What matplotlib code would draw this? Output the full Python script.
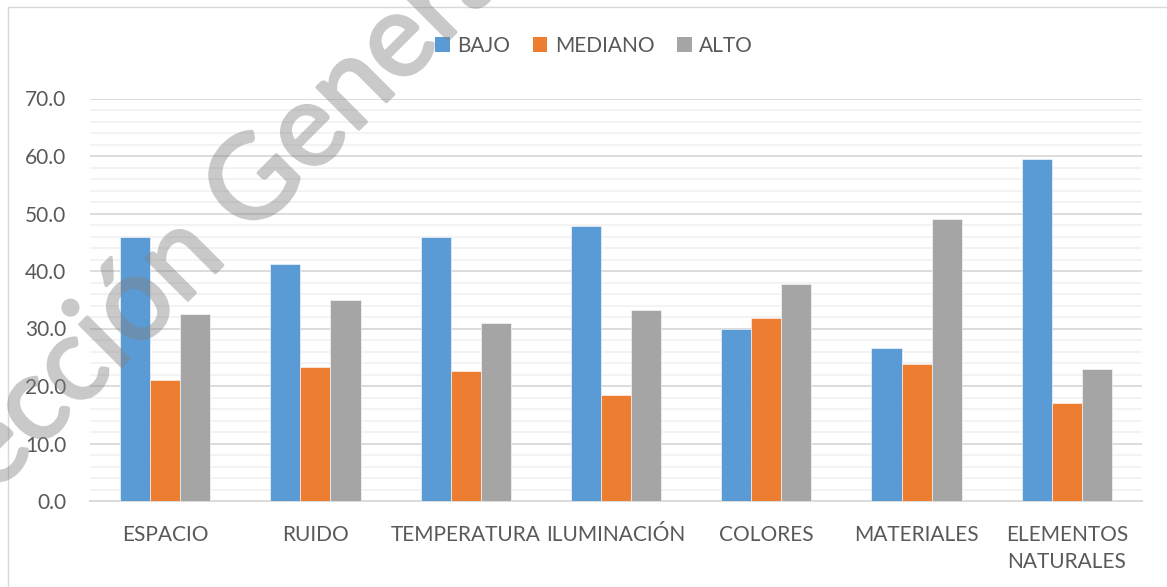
import matplotlib
matplotlib.use("Agg")
import matplotlib.pyplot as plt
import matplotlib.patheffects as pe
import numpy as np
from matplotlib.patches import Rectangle, Patch
from matplotlib.ticker import MultipleLocator, FormatStrFormatter

categories = ["ESPACIO", "RUIDO", "TEMPERATURA", "ILUMINACIÓN", "COLORES",
              "MATERIALES", "ELEMENTOS\nNATURALES"]
series_names = ["BAJO", "MEDIANO", "ALTO"]
bajo = [46.0, 41.3, 46.0, 47.8, 29.9, 26.6, 59.4]
mediano = [21.0, 23.3, 22.6, 18.5, 31.9, 23.9, 17.1]
alto = [32.5, 35.0, 30.9, 33.3, 37.7, 49.0, 23.0]
colors = ["#5B9BD5", "#ED7D31", "#A5A5A5"]

plt.rcParams['font.family'] = ['Lato', 'DejaVu Sans']
text_color = "#595959"

W, H = 1167, 587
fig = plt.figure(figsize=(W / 100, H / 100), dpi=100)
ax = fig.add_axes([90 / W, 1 - 501 / H, (1142 - 90) / W, (501 - 98.5) / H])

x = np.arange(len(categories))
bw = 0.2
for i, (vals, c) in enumerate(zip([bajo, mediano, alto], colors)):
    ax.bar(x + (i - 1) * bw, vals, width=bw, color=c, zorder=3,
           edgecolor="white", linewidth=0.4)

ax.set_xlim(-0.5, len(categories) - 0.5)
ax.set_ylim(0, 70)
ax.yaxis.set_major_locator(MultipleLocator(10))
ax.yaxis.set_minor_locator(MultipleLocator(2))
ax.yaxis.set_major_formatter(FormatStrFormatter("%.1f"))
ax.grid(which="major", axis="y", color="#D9D9D9", linewidth=1.3, zorder=0)
ax.grid(which="minor", axis="y", color="#F2F2F2", linewidth=1.3, zorder=0)
for s in ["top", "right", "left"]:
    ax.spines[s].set_visible(False)
ax.spines["bottom"].set_color("#D9D9D9")
ax.spines["bottom"].set_linewidth(1.3)
ax.set_xticks(x)
ax.set_xticklabels(categories, linespacing=1.45)
ax.tick_params(axis="x", length=0, pad=17, labelsize=15, colors=text_color)
ax.tick_params(axis="y", which="both", length=0, pad=17, labelsize=15, colors=text_color)

# chart area border
fig.patches.append(Rectangle((8 / W, -0.1), 1.2, 1 - 7 / H + 0.1,
                             transform=fig.transFigure, fill=False,
                             edgecolor="#D9D9D9", linewidth=1.0))

handles = [Patch(facecolor=c, edgecolor="none") for c in colors]
fig.legend(handles, series_names, loc="center", bbox_to_anchor=(594 / W, 1 - 46 / H),
           ncol=3, frameon=False, fontsize=15, labelcolor=text_color,
           handlelength=0.7, handleheight=0.7, handletextpad=0.35,
           columnspacing=1.1, borderaxespad=0)


# watermark: drawn opaque, then made uniformly translucent
def fade(img, dpi):
    img = img.copy()
    img[..., 3] *= 0.42
    return img, 0, 0


wm = fig.text(184 / W, 1 - 258 / H, "Dirección General", fontsize=84, color="#808080",
              rotation=45, ha="center", va="center", zorder=10,
              family=["Lato", "DejaVu Sans"],
              path_effects=[pe.withStroke(linewidth=2.4, foreground="#808080")])
wm.set_agg_filter(fade)

fig.savefig("out.png", dpi=100)
